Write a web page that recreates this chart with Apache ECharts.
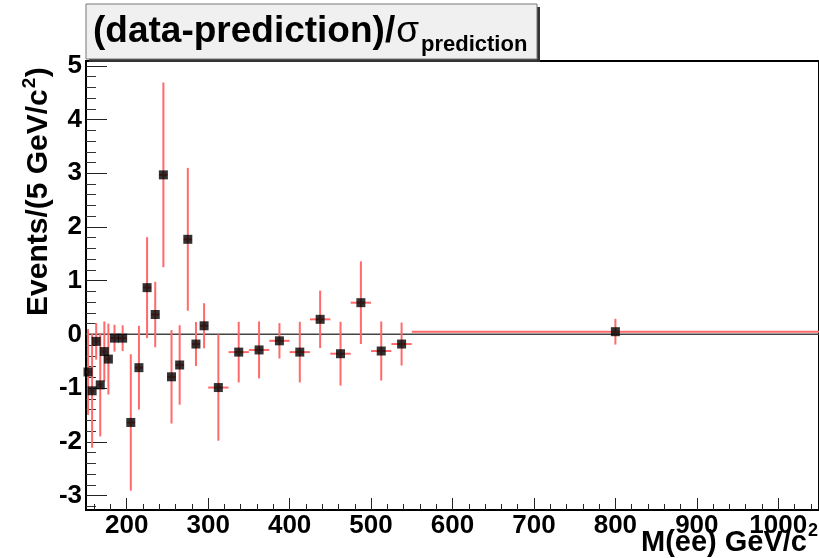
<!DOCTYPE html>
<html>
<head>
<meta charset="utf-8">
<script src="https://cdn.jsdelivr.net/npm/echarts@6/dist/echarts.min.js"></script>
<style>
html, body { margin: 0; padding: 0; background: #fff; }
#chart { width: 819px; height: 558px; }
</style>
</head>
<body>
<div id="chart"></div>
<script>
// bins in M(ee) [GeV/c^2] and the pull (data-prediction)/sigma in each bin
const massLow  = [150, 155, 160, 165, 170, 175, 180, 190, 200, 210, 220, 230, 240, 250, 260, 270, 280, 290, 300, 325, 350, 375, 400, 425, 450, 475, 500, 525, 550];
const massHigh = [155, 160, 165, 170, 175, 180, 190, 200, 210, 220, 230, 240, 250, 260, 270, 280, 290, 300, 325, 350, 375, 400, 425, 450, 475, 500, 525, 550, 1050];
const pull     = [-0.70, -1.05, -0.13, -0.94, -0.32, -0.46, -0.07, -0.07, -1.64, -0.62, 0.87, 0.37, 2.97, -0.79, -0.57, 1.77, -0.18, 0.16, -0.99, -0.33, -0.29, -0.12, -0.33, 0.28, -0.36, 0.59, -0.31, -0.18, 0.05];
const pullErr  = [0.80, 1.06, 0.34, 0.96, 0.56, 0.66, 0.25, 0.24, 1.27, 0.78, 0.94, 0.61, 1.72, 0.87, 0.74, 1.33, 0.41, 0.42, 0.99, 0.565, 0.53, 0.33, 0.565, 0.535, 0.595, 0.77, 0.55, 0.40, 0.24];

const xTicks = [200, 300, 400, 500, 600, 700, 800, 900, 1000];
const yTicks = [-3, -2, -1, 0, 1, 2, 3, 4, 5];

const X_MIN = 150, X_MAX = 1050;
const Y_MIN = -3.27, Y_MAX = 5.09;

// minor ticks (ROOT style: 5 divisions per major)
let xMinor = [];
for (let v = 160; v < X_MAX; v += 20) if (v % 100 !== 0) xMinor.push(v);
let yMinor = [];
for (let i = -16; i <= 25; i++) if (i % 5 !== 0) yMinor.push(Math.round(i * 2) / 10);

const FONT = '"Liberation Sans", Arial, Helvetica, sans-serif';
const ctx = document.createElement("canvas").getContext("2d");
function textWidth(s, size, weight) {
  ctx.font = (weight || "bold") + " " + size + "px " + FONT;
  return ctx.measureText(s).width;
}
// text placed by its baseline (zrender has no alphabetic baseline option)
function label(x, baseline, text, size, weight, align) {
  return {
    type: "text",
    x: x,
    y: baseline - 0.35 * size,
    z: 12,
    style: {
      text: text,
      font: (weight || "bold") + " " + size + "px " + FONT,
      fill: "#000",
      align: align || "left",
      verticalAlign: "middle",
    },
  };
}

let points = massLow.map((lo, i) => [lo, massHigh[i], pull[i], pullErr[i]]);
let centers = massLow.map((lo, i) => [(lo + massHigh[i]) / 2, pull[i]]);

// title pieces
const tMain = "(data-prediction)/";
const tMainSize = 37;
const tMainW = textWidth(tMain, tMainSize);
const tSigmaW = textWidth("σ", tMainSize, "normal");

// y title pieces
const yT1 = "Events/(5 GeV/c";
const ySize = 30;
const yT1W = textWidth(yT1, ySize);

let myChart = echarts.init(document.getElementById("chart"), null, { renderer: "canvas" });
myChart.setOption({
  animation: false,
  backgroundColor: "#fff",
  grid: {
    left: 86,
    top: 61,
    width: 735,
    height: 449,
    show: true,
    borderColor: "#000",
    borderWidth: 2,
    backgroundColor: "transparent",
  },
  xAxis: [
    {
      type: "value",
      min: X_MIN,
      max: X_MAX,
      axisLine: { show: true, onZero: false, lineStyle: { color: "#000", width: 2 } },
      axisTick: {
        show: true,
        inside: true,
        length: 12,
        customValues: xTicks,
        lineStyle: { color: "#222", width: 1 },
      },
      axisLabel: {
        customValues: xTicks,
        formatter: (v) => String(v),
        margin: 3,
        color: "#000",
        fontFamily: FONT,
        fontWeight: "bold",
        fontSize: 26,
      },
      splitLine: { show: false },
    },
    {
      type: "value",
      min: X_MIN,
      max: X_MAX,
      position: "bottom",
      axisLine: { show: false, onZero: false },
      axisTick: {
        show: true,
        inside: true,
        length: 6,
        customValues: xMinor,
        lineStyle: { color: "#222", width: 1 },
      },
      axisLabel: { show: false },
      splitLine: { show: false },
    },
  ],
  yAxis: [
    {
      type: "value",
      min: Y_MIN,
      max: Y_MAX,
      axisLine: { show: true, onZero: false, lineStyle: { color: "#000", width: 2 } },
      axisTick: {
        show: true,
        inside: true,
        length: 21,
        customValues: yTicks,
        lineStyle: { color: "#222", width: 1 },
      },
      axisLabel: {
        customValues: yTicks,
        formatter: (v) => String(v),
        margin: 4,
        color: "#000",
        fontFamily: FONT,
        fontWeight: "bold",
        fontSize: 26,
      },
      splitLine: { show: false },
    },
    {
      type: "value",
      min: Y_MIN,
      max: Y_MAX,
      position: "left",
      axisLine: { show: false, onZero: false },
      axisTick: {
        show: true,
        inside: true,
        length: 10,
        customValues: yMinor,
        lineStyle: { color: "#333", width: 1 },
      },
      axisLabel: { show: false },
      splitLine: { show: false },
    },
  ],
  series: [
    {
      // zero reference line
      type: "line",
      data: [[X_MIN, 0], [X_MAX, 0]],
      symbol: "none",
      silent: true,
      lineStyle: { color: "#444", width: 1.5 },
      z: 1,
    },
    {
      // error bars: horizontal = bin width, vertical = uncertainty
      type: "custom",
      data: points,
      clip: true,
      z: 2,
      renderItem: function (params, api) {
        let lo = api.value(0), hi = api.value(1), y = api.value(2), e = api.value(3);
        let xc = (lo + hi) / 2;
        let pL = api.coord([lo, y]);
        let pR = api.coord([hi, y]);
        let pT = api.coord([xc, y + e]);
        let pB = api.coord([xc, y - e]);
        let st = { stroke: "#ff6a6a", lineWidth: 2 };
        return {
          type: "group",
          children: [
            { type: "line", shape: { x1: pL[0], y1: pL[1], x2: pR[0], y2: pR[1] }, style: st },
            { type: "line", shape: { x1: pT[0], y1: pT[1], x2: pB[0], y2: pB[1] }, style: st },
          ],
        };
      },
    },
    {
      type: "scatter",
      data: centers,
      symbol: "rect",
      symbolSize: 9,
      itemStyle: { color: "#000" },
      z: 3,
    },
  ],
  graphic: [
    // title box with shadow
    { type: "rect", shape: { x: 89, y: 7, width: 451, height: 55 }, style: { fill: "#333" }, z: 10 },
    { type: "rect", shape: { x: 86, y: 4, width: 451, height: 55 }, style: { fill: "#f0f0f0", stroke: "#777", lineWidth: 1 }, z: 11 },
    label(93, 45, tMain, tMainSize),
    label(93 + tMainW + 1, 45, "σ", tMainSize, "normal"),
    label(93 + tMainW + tSigmaW + 3, 53, "prediction", 22),
    // y axis title, rotated
    {
      type: "group",
      x: 49,
      y: 316,
      rotation: Math.PI / 2,
      children: [
        label(0, 0, yT1, ySize),
        label(yT1W + 1, -13, "2", 19),
        label(yT1W + 12, 0, ")", ySize),
      ],
    },
    // x axis title
    label(818, 537, "2", 18, "bold", "right"),
    label(807, 553, "M(ee) GeV/c", 29, "bold", "right"),
  ],
});
</script>
</body>
</html>
